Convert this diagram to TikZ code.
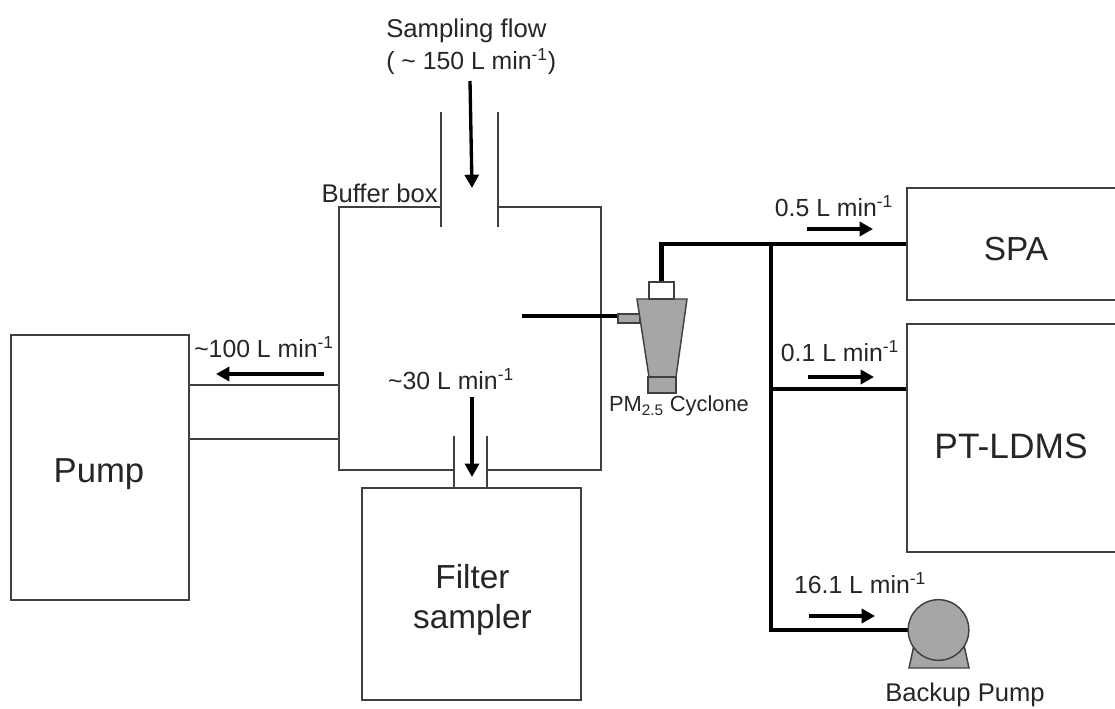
\documentclass[tikz,border=0pt]{standalone}
\usepackage{fontspec}
\setmainfont{Liberation Sans}
\usetikzlibrary{arrows.meta}
\definecolor{ln}{HTML}{404040}
\definecolor{fillg}{HTML}{A6A6A6}
\tikzset{
 px/.style={x=0.75pt,y=-0.75pt},
 wire/.style={draw=ln,line width=1.1pt},
 boxn/.style={draw=ln,line width=1.1pt,fill=white,inner sep=0pt,align=center},
 pipe/.style={draw=black,line width=3.4pt},
 flow/.style={draw=black,line width=2.5pt,-{Triangle[length=10pt,width=10.5pt]}},
 part/.style={draw=ln,line width=1.1pt,fill=fillg},
 lbl/.style={inner sep=0pt,font=\fontsize{18.6pt}{24pt}\selectfont,align=center,text=black!85},
}
\newcommand{\lmin}{L min\textsuperscript{-1}}
\begin{document}
\begin{tikzpicture}[px]
\useasboundingbox (0,0) rectangle (1115,709);
\fill[white] (0,0) rectangle (1115,709);
% buffer box
\coordinate (bA) at (441,207); \coordinate (bB) at (339,207); \coordinate (bC) at (339,470);
\coordinate (bD) at (454,470); \coordinate (bE) at (487,470); \coordinate (bF) at (601,470);
\coordinate (bG) at (601,207); \coordinate (bH) at (498,207);
\draw[wire] (bA) -- (bB) -- (bC) -- (bD) (bE) -- (bF) -- (bG) -- (bH);
\draw[wire] (441,112) -- (441,227);
\draw[wire] (498,112) -- (498,227);
\draw[wire] (454,436) -- (454,488);
\draw[wire] (487,436) -- (487,488);
% boxes
\node[boxn,minimum width=133.5pt,minimum height=198.75pt] (pump) at (100,467.5) {};
\node[boxn,minimum width=164.25pt,minimum height=159pt] (filter) at (471.5,594) {};
\node[boxn,minimum width=165pt,minimum height=84pt] (spa) at (1017,244) {};
\node[boxn,minimum width=165pt,minimum height=171pt] (ldms) at (1017,438) {};
\draw[wire] (189,385) -- (339,385);
\draw[wire] (189,439) -- (339,439);
\node[lbl,font=\fontsize{26pt}{30pt}\selectfont] at (99,474) {Pump};
\node[lbl,font=\fontsize{25pt}{30.5pt}\selectfont] at (472.5,600) {Filter\\sampler};
\node[lbl,font=\fontsize{25pt}{30pt}\selectfont] at (1016,249) {SPA};
\node[lbl,font=\fontsize{26.5pt}{30pt}\selectfont] at (1011,446) {PT-LDMS};
% cyclone
\coordinate (ci) at (522,316);
\node[part,minimum width=16.5pt,minimum height=6.5pt,inner sep=0pt] (inlet) at (629,318.5) {};
\draw[pipe,line width=3pt] (ci) -- (inlet.west |- ci);
\draw[part] (637,299) -- (687,299) -- (676,377) -- (649,377) -- cycle;
\node[part,minimum width=21pt,minimum height=12pt,inner sep=0pt] (dust) at (662,385) {};
\node[boxn,minimum width=18.5pt,minimum height=12.5pt] (cap) at (661.5,290.5) {};
\coordinate (j0) at (661.5,244);
\coordinate (j1) at (771,244);
\coordinate (j2) at (771,389);
\coordinate (j3) at (771,630);
\draw[pipe,line join=miter] (cap.north) -- (j0) -- (spa.west |- j0);
\draw[pipe] (j1) -- (j3) -- (908,630);
\draw[pipe] (j2) -- (ldms.west |- j2);
% backup pump
\draw[part] (914,645) -- (909,668) -- (969,668) -- (964,645) -- cycle;
\node[part,circle,minimum size=45.5pt,inner sep=0pt] (bp) at (938.5,630) {};
% flow arrows
\draw[flow] (470,81) -- (472,188);
\draw[flow] (324,374) -- (216,374);
\draw[flow] (472,397) -- (472,477);
\draw[flow] (807,229) -- (873,229);
\draw[flow] (808,377) -- (874,377);
\draw[flow] (809,616) -- (875,616);
% labels
\node[lbl,align=left,anchor=west] at (386,46.5) {{\fontsize{19.3pt}{24.75pt}\selectfont Sampling flow}\\( \textasciitilde\ 150 \lmin)};
\node[lbl,font=\fontsize{19.2pt}{24pt}\selectfont,anchor=east] at (438,193) {Buffer box};
\node[lbl] at (264,347) {\textasciitilde100 \lmin};
\node[lbl] at (451,379) {\textasciitilde30 \lmin};
\node[lbl,font=\fontsize{16.4pt}{20pt}\selectfont] at (679,406) {PM\textsubscript{2.5} Cyclone};
\node[lbl] at (834,206) {0.5 \lmin};
\node[lbl] at (840,351) {0.1 \lmin};
\node[lbl] at (860,583) {16.1 \lmin};
\node[lbl,font=\fontsize{19.2pt}{24pt}\selectfont] at (965,695) {Backup Pump};
\end{tikzpicture}
\end{document}
